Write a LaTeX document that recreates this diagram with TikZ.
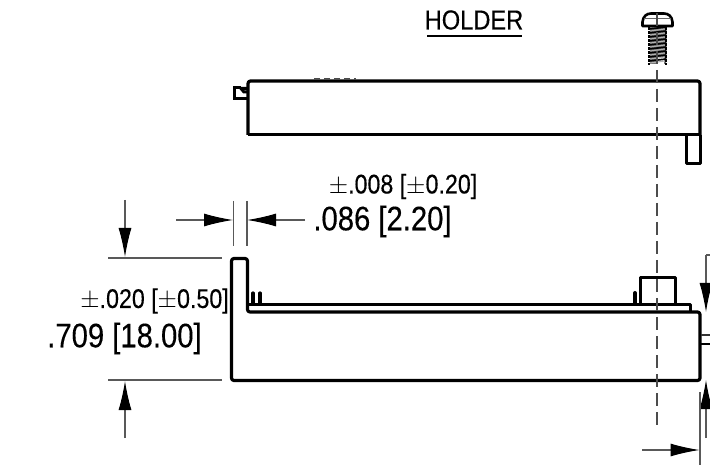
\documentclass[tikz,border=0pt]{standalone}
\usepackage{fontspec}
\setmainfont[FakeStretch=0.86,FakeBold=0.3]{Liberation Sans}
\usetikzlibrary{arrows.meta}
\tikzset{
 x=1pt,y=-1pt,
 body/.style={line width=3.2pt,black,line join=round,rounded corners=2.5pt},
 thinbody/.style={line width=3pt,black,line join=round},
 dim/.style={line width=1.1pt,black!65},
 dimarrow/.style={dim,-{Latex[length=29pt,width=13pt,black]}},
 center/.style={line width=1.1pt,black!70,dash pattern=on 13pt off 6pt},
 big/.style={font=\fontsize{34}{36}\selectfont,inner sep=0pt,anchor=center},
 small/.style={font=\fontsize{27}{28}\selectfont,inner sep=0pt,anchor=center},
}
\begin{document}
\begin{tikzpicture}
\useasboundingbox (0,0) rectangle (710,465);
% text
\node[small,font=\fontsize{27.5}{29}\selectfont] (holder) at (474,20) {HOLDER};
\coordinate (ula) at (427,36); \coordinate (ulb) at (522,36);
\draw[line width=1.8pt] (ula) -- (ulb);
\node[small] (tol1) at (403,186.5) {$\pm$.008 [$\pm$0.20]};
\node[big] (val1) at (382.5,221.5) {.086 [2.20]};
\node[small] (tol2) at (154.5,301) {$\pm$.020 [$\pm$0.50]};
\node[big] (val2) at (124.5,338.5) {.709 [18.00]};
% centre line
\coordinate (cla) at (657,13); \coordinate (clb) at (657,428);
% upper holder
\draw[body] (248,135) -- (248,81) -- (700,81) -- (700,135);
\draw[thinbody] (248,135) -- (700,135);
\draw[thinbody] (686,135) -- (686,164) -- (700,164) -- (700,135);
\draw[thinbody,line join=miter] (248,88.5) -- (241,88.5) -- (244,92) -- (248,92);
\draw[thinbody,line join=miter] (241,88) -- (234.5,88) -- (234.5,99) -- (248,99);
\draw[line width=1.2pt,black!70,dash pattern=on 6pt off 4pt] (314,79) -- (356,79);
% screw
\draw[line width=2.6pt,line join=round] (642.5,26) -- (642.5,22) .. controls (643,16) and (647,13.5) .. (651,13.5) -- (664,13.5) .. controls (668,13.5) and (672,16) .. (672.5,22) -- (672.5,26) -- cycle;
\draw[line width=1pt,black!60] (644,19) -- (671,19);
\fill[black!55] (650,27) rectangle (666,64);
\fill[white] (658,57) rectangle (664,65);
\foreach \yy in {29,33,37,41,45,49,53,57,61}{
  \draw[line width=1.7pt] (648.5,\yy) -- (666.5,\yy-2);
  \draw[line width=1pt,white!70!black] (650,\yy+2) -- (665,\yy);
}
\draw[line width=2.6pt,dash pattern=on 3pt off 1pt] (649,27) -- (649,65);
\draw[line width=2.6pt,dash pattern=on 3pt off 1pt] (666,27) -- (666,65);
% lower body
\draw[thinbody] (640.5,304) -- (640.5,277.5) -- (675,277.5) -- (675,304);
\draw[thinbody] (248,304.5) -- (690.5,304.5) -- (690.5,312);
\draw[line width=3.2pt,line cap=round] (253,304) -- (253,293);
\draw[line width=3.2pt,line cap=round] (260,304) -- (260,293);
\draw[line width=4pt,line cap=round] (635,303) -- (635,293);
\draw[body] (231.5,350) -- (231.5,258.5) -- (247.5,258.5) -- (247.5,312) -- (700,312) -- (700,380.5) -- (231.5,380.5) -- cycle;
\draw[line width=1.6pt,black!80] (701,335) -- (710,335);
\draw[line width=1.6pt] (701,344) -- (710,344);
% centre line on top
\draw[center] (cla) -- (clb);
% dimensions left
\coordinate (la1) at (125,200); \coordinate (la2) at (125,257);
\coordinate (lb1) at (125,438); \coordinate (lb2) at (125,381);
\draw[dimarrow] (la1) -- (la2);
\draw[dimarrow] (lb1) -- (lb2);
\draw[dim] (108,258) -- (222,258);
\draw[dim] (108,380) -- (222,380);
% dimensions top
\coordinate (ta1) at (176,220); \coordinate (ta2) at (233,220);
\coordinate (tb1) at (305,220); \coordinate (tb2) at (247,220);
\draw[dimarrow] (ta1) -- (ta2);
\draw[dimarrow] (tb1) -- (tb2);
\draw[dim] (233.5,201) -- (233.5,246);
\draw[dim] (247,201) -- (247,246);
% dimensions right
\coordinate (ra0) at (710,255); \coordinate (ra1) at (706,255); \coordinate (ra2) at (706,312);
\coordinate (rb1) at (706,438); \coordinate (rb2) at (706,380);
\coordinate (rc1) at (642,450); \coordinate (rc2) at (699.5,450);
\draw[dim] (ra0) -- (ra1);
\draw[dimarrow] (ra1) -- (ra2);
\draw[dimarrow] (rb1) -- (rb2);
\draw[dimarrow] (rc1) -- (rc2);
\draw[dim] (700,392) -- (700,465);
\end{tikzpicture}
\end{document}
